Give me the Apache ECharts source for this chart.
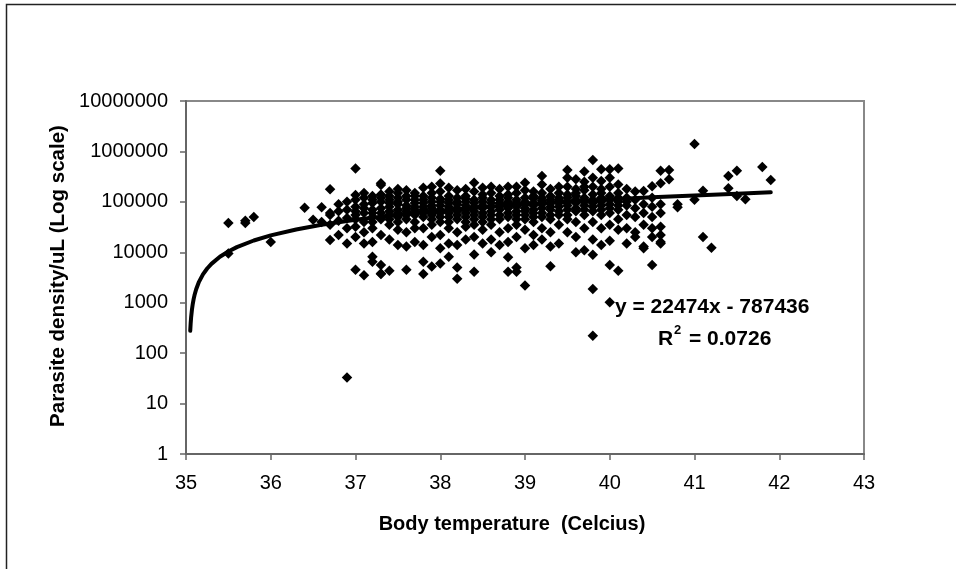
<!DOCTYPE html>
<html>
<head>
<meta charset="utf-8">
<script src="https://cdn.jsdelivr.net/npm/echarts@6/dist/echarts.min.js"></script>
<style>
html,body{margin:0;padding:0;background:#fff;}
#chart{width:956px;height:569px;}
</style>
</head>
<body>
<div id="chart"></div>
<script>
// Body temperature columns (Celcius)
const columnTemps = [35.5, 35.7, 35.8, 36.0, 36.4, 36.5, 36.6, 36.7, 36.8, 36.9,
  37.0, 37.1, 37.2, 37.3, 37.4, 37.5, 37.6, 37.7, 37.8, 37.9,
  38.0, 38.1, 38.2, 38.3, 38.4, 38.5, 38.6, 38.7, 38.8, 38.9,
  39.0, 39.1, 39.2, 39.3, 39.4, 39.5, 39.6, 39.7, 39.8, 39.9,
  40.0, 40.1, 40.2, 40.3, 40.4, 40.5, 40.6, 40.7, 40.8, 41.0,
  41.1, 41.2, 41.4, 41.5, 41.6, 41.8, 41.9];
// Parasite density/uL for each column
const columnDensities = [
  [38000, 9500],
  [38000, 42000],
  [50000],
  [16000],
  [76000],
  [44000],
  [78000, 40000],
  [178000, 55000, 35000, 17500, 60000],
  [22000, 65000, 90000, 42000],
  [15000, 33, 100000, 70000, 48000, 30000],
  [460000, 137000, 80000, 55000, 32000, 20000, 4500, 110000, 65000, 45000],
  [3500, 15000, 120000, 90000, 60000, 40000, 25000, 75000, 150000],
  [8200, 6500, 130000, 95000, 70000, 50000, 30000, 16000, 110000, 60000, 40000],
  [215000, 233000, 3800, 5600, 3700, 140000, 100000, 75000, 45000, 22000, 60000, 120000],
  [4300, 160000, 110000, 80000, 55000, 35000, 18000, 95000, 65000, 130000, 45000],
  [180000, 120000, 90000, 60000, 40000, 14000, 100000, 70000, 28000, 150000, 50000],
  [4500, 170000, 130000, 85000, 65000, 45000, 25000, 13000, 110000, 55000, 75000],
  [150000, 110000, 80000, 55000, 30000, 16000, 95000, 70000, 40000, 130000, 60000],
  [3700, 6500, 190000, 130000, 95000, 70000, 50000, 30000, 14000, 110000, 80000, 60000],
  [5200, 200000, 150000, 100000, 75000, 55000, 35000, 20000, 85000, 60000, 120000, 45000],
  [415000, 6000, 230000, 160000, 115000, 85000, 60000, 40000, 22000, 12000, 100000, 70000, 50000],
  [8200, 190000, 130000, 95000, 70000, 50000, 30000, 15000, 110000, 80000, 60000, 40000],
  [3000, 5000, 170000, 120000, 90000, 65000, 45000, 25000, 14000, 75000, 100000, 55000],
  [180000, 130000, 100000, 70000, 50000, 32000, 18000, 85000, 60000, 115000, 40000],
  [240000, 4100, 160000, 110000, 80000, 55000, 35000, 20000, 9000, 95000, 65000, 45000],
  [190000, 140000, 100000, 75000, 50000, 28000, 15000, 85000, 60000, 120000, 40000],
  [200000, 150000, 110000, 80000, 55000, 35000, 18000, 10000, 95000, 65000, 45000],
  [180000, 130000, 95000, 70000, 45000, 25000, 14000, 85000, 110000, 55000],
  [4100, 200000, 140000, 100000, 75000, 50000, 30000, 16000, 8000, 90000, 60000, 120000],
  [200000, 4100, 5000, 150000, 110000, 80000, 55000, 35000, 20000, 95000, 65000, 45000],
  [240000, 2200, 170000, 120000, 90000, 65000, 45000, 28000, 12000, 100000, 75000, 55000],
  [160000, 115000, 85000, 60000, 40000, 22000, 14000, 95000, 70000, 130000, 50000],
  [325000, 220000, 150000, 105000, 75000, 50000, 30000, 18000, 90000, 60000, 120000],
  [5300, 180000, 130000, 95000, 70000, 45000, 25000, 13000, 110000, 80000, 55000],
  [200000, 150000, 110000, 80000, 55000, 35000, 15000, 95000, 65000, 120000],
  [427000, 300000, 200000, 140000, 100000, 70000, 45000, 25000, 120000, 85000, 55000],
  [280000, 180000, 130000, 95000, 65000, 40000, 20000, 10000, 110000, 75000, 150000],
  [400000, 11000, 250000, 170000, 120000, 85000, 55000, 30000, 100000, 70000, 200000],
  [675000, 1870, 222, 8900, 300000, 200000, 140000, 95000, 65000, 40000, 18000, 110000, 80000],
  [445000, 260000, 180000, 120000, 85000, 55000, 30000, 14000, 100000, 70000, 150000],
  [445000, 1020, 5600, 300000, 200000, 130000, 90000, 60000, 35000, 17000, 110000, 75000],
  [460000, 4300, 28000, 220000, 150000, 100000, 70000, 45000, 120000, 85000],
  [15000, 180000, 120000, 85000, 55000, 30000, 100000],
  [160000, 110000, 75000, 50000, 25000, 20000],
  [165000, 13000, 12000, 90000, 60000, 35000],
  [205000, 5600, 20000, 120000, 80000, 50000, 30000],
  [415000, 233000, 16000, 22000, 32000, 15000, 90000, 60000],
  [427000, 280000],
  [78000, 90000],
  [1400000, 110000],
  [166000, 20000],
  [12300],
  [325000, 186000],
  [415000, 131000],
  [113000],
  [490000],
  [270000]
];
// Linear trendline: y = 22474x - 787436, R^2 = 0.0726
const trendSlope = 22474;
const trendIntercept = -787436;
const trendTemps = [35.05, 35.055, 35.06, 35.07, 35.08, 35.09, 35.1, 35.12, 35.15, 35.2, 35.25,
  35.3, 35.4, 35.5, 35.6, 35.8, 36.0, 36.3, 36.6, 37.0, 37.5, 38.0, 38.5, 39.0, 39.5,
  40.0, 40.5, 41.0, 41.5, 41.9];
const xTicks = [35, 36, 37, 38, 39, 40, 41, 42, 43];
const yTicks = [1, 10, 100, 1000, 10000, 100000, 1000000, 10000000];

const scatterData = [];
columnTemps.forEach((t, i) => {
  columnDensities[i].forEach(v => scatterData.push([t, v]));
});
const trendData = trendTemps.map(t => [t, trendSlope * t + trendIntercept]);

const chart = echarts.init(document.getElementById('chart'), null, {renderer: 'canvas'});
const FONT = 'Liberation Sans, Arial, sans-serif';
chart.setOption({
  animation: false,
  backgroundColor: '#ffffff',
  grid: {left: 186, right: 92, top: 101, bottom: 115, show: true,
    borderColor: '#888888', borderWidth: 2, backgroundColor: 'transparent'},
  xAxis: {
    type: 'value', min: xTicks[0], max: xTicks[xTicks.length - 1], interval: 1,
    axisLine: {show: true, onZero: false, lineStyle: {color: '#666666', width: 2}},
    axisTick: {show: true, inside: false, length: 6, lineStyle: {color: '#666666', width: 1.5}},
    axisLabel: {color: '#000', fontFamily: FONT, fontSize: 20, margin: 19},
    splitLine: {show: false}
  },
  yAxis: {
    type: 'log', logBase: 10, min: yTicks[0], max: yTicks[yTicks.length - 1],
    axisLine: {show: true, onZero: false, lineStyle: {color: '#666666', width: 2}},
    axisTick: {show: true, inside: false, length: 6, lineStyle: {color: '#666666', width: 1.5}},
    axisLabel: {color: '#000', fontFamily: FONT, fontSize: 20, margin: 18,
      formatter: v => String(Math.round(v))},
    splitLine: {show: false}
  },
  series: [
    {
      type: 'scatter', name: 'Parasite density', data: scatterData,
      symbol: 'diamond', symbolSize: 10.5,
      itemStyle: {color: '#000000', opacity: 1}, z: 2
    },
    {
      type: 'line', name: 'Linear trend', data: trendData,
      showSymbol: false, symbol: 'none', smooth: false,
      lineStyle: {color: '#000000', width: 4, cap: 'round', join: 'round'}, z: 3
    }
  ],
  graphic: [
    {type: 'rect', shape: {x: 6.5, y: 4.5, width: 960, height: 580},
      style: {fill: 'none', stroke: '#222222', lineWidth: 1.5}, silent: true},
    {type: 'text', x: 512, y: 524, style: {text: 'Body temperature  (Celcius)',
      font: 'bold 20px ' + FONT, fill: '#000', align: 'center', verticalAlign: 'middle'}},
    {type: 'text', x: 58, y: 276, rotation: Math.PI / 2, style: {text: 'Parasite density/uL (Log scale)',
      font: 'bold 20.5px ' + FONT, fill: '#000', align: 'center', verticalAlign: 'middle'}},
    {type: 'text', x: 615, y: 307, style: {text: 'y = 22474x - 787436',
      font: 'bold 21px ' + FONT, fill: '#000', align: 'left', verticalAlign: 'middle'}, z: 10},
    {type: 'text', x: 658, y: 339, style: {text: 'R',
      font: 'bold 21px ' + FONT, fill: '#000', align: 'left', verticalAlign: 'middle'}, z: 10},
    {type: 'text', x: 674, y: 330, style: {text: '2',
      font: 'bold 13px ' + FONT, fill: '#000', align: 'left', verticalAlign: 'middle'}, z: 10},
    {type: 'text', x: 689, y: 339, style: {text: '= 0.0726',
      font: 'bold 21px ' + FONT, fill: '#000', align: 'left', verticalAlign: 'middle'}, z: 10}
  ]
});
</script>
</body>
</html>
